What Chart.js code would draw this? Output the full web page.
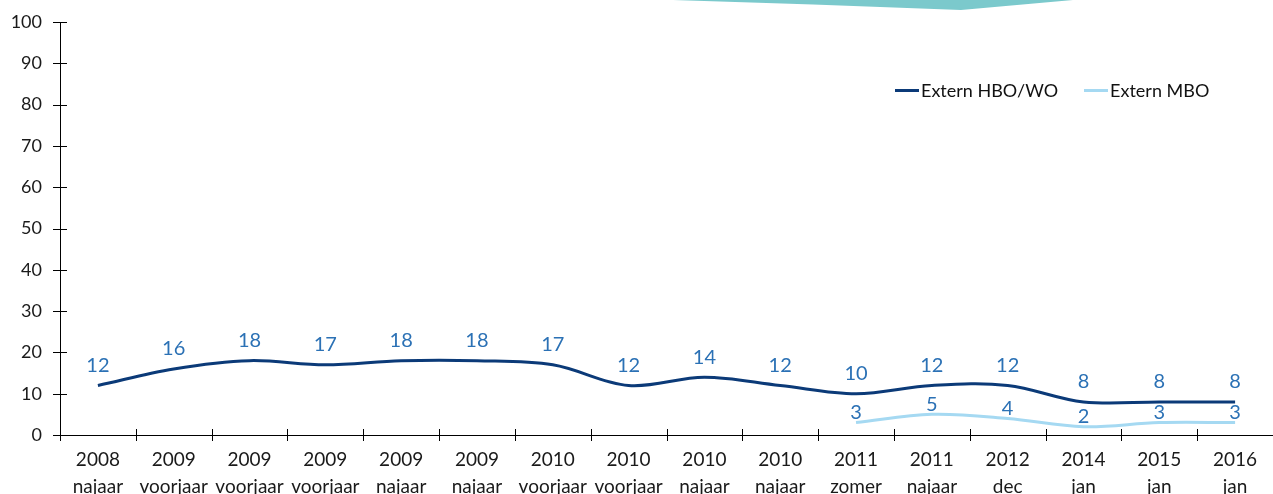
<!DOCTYPE html>
<html lang="nl">

<head>
    <meta charset="UTF-8">
    <meta name="viewport" content="width=device-width, initial-scale=1.0">
    <title>Extern HBO/WO en MBO</title>
    <style>
        body {
            margin: 0;
            background: #fff;
            overflow: hidden;
            font-family: Lato, "Open Sans", sans-serif;
        }

        .box {
            position: relative;
            width: 1273px;
            height: 510px;
        }

        .kop {
            position: absolute;
            left: 673px;
            top: 0;
            width: 400px;
            height: 10px;
            background: #7bc9cc;
            clip-path: polygon(0 0, 35% 45%, 72% 100%, 100% 0);
        }

        .legenda {
            position: absolute;
            top: 79px;
            left: 895px;
            display: flex;
            font-size: 18px;
            color: #111;
        }

        .legenda span {
            display: flex;
            align-items: center;
            margin-right: 26px;
        }

        .legenda i {
            display: inline-block;
            width: 24px;
            height: 3px;
            margin-right: 2px;
        }
    </style>
</head>

<body>
    <div class="box">
        <canvas id="grafiek"></canvas>
        <div class="kop"></div>
        <div class="legenda">
            <span><i style="background:#0b3a78"></i>Extern HBO/WO</span>
            <span><i style="background:#a5d9f2"></i>Extern MBO</span>
        </div>
    </div>

    <script src="https://cdn.jsdelivr.net/npm/chart.js@4.4.1/dist/chart.umd.min.js"></script>

    <script>
        // data
        var jaren = ['2008', '2009', '2009', '2009', '2009', '2009', '2010', '2010', '2010', '2010', '2011', '2011', '2012', '2014', '2015', '2016'];
        var periodes = ['najaar', 'voorjaar', 'voorjaar', 'voorjaar', 'najaar', 'najaar', 'voorjaar', 'voorjaar', 'najaar', 'najaar', 'zomer', 'najaar', 'dec', 'jan', 'jan', 'jan'];
        var externHboWo = [12, 16, 18, 17, 18, 18, 17, 12, 14, 12, 10, 12, 12, 8, 8, 8];
        var externMbo = [null, null, null, null, null, null, null, null, null, null, 3, 5, 4, 2, 3, 3];
        var yTicks = [0, 10, 20, 30, 40, 50, 60, 70, 80, 90, 100];

        var labels = [];
        for (let i = 0; i < jaren.length; i++) {
            labels.push([jaren[i], periodes[i]]);
        }

        // getallen boven de punten
        var waardeLabels = {
            id: 'waardeLabels',
            afterDatasetsDraw(chart) {
                var ctx = chart.ctx;
                ctx.save();
                ctx.font = '20px Lato, sans-serif';
                ctx.fillStyle = '#2b71b5';
                ctx.textAlign = 'center';
                ctx.textBaseline = 'middle';
                chart.data.datasets.forEach(function (ds, d) {
                    var meta = chart.getDatasetMeta(d);
                    var afstand = d == 0 ? 20 : 10;
                    meta.data.forEach(function (punt, i) {
                        if (ds.data[i] == null) return;
                        ctx.fillText(ds.data[i], punt.x, punt.y - afstand);
                    });
                });
                ctx.restore();
            }
        };

        // streepjes die over de as heen vallen
        var asStreepjes = {
            id: 'asStreepjes',
            afterDraw(chart) {
                var ctx = chart.ctx;
                var area = chart.chartArea;
                var x = chart.scales.x;
                var y = chart.scales.y;
                ctx.save();
                ctx.strokeStyle = '#000';
                ctx.lineWidth = 1;
                ctx.beginPath();
                yTicks.forEach(function (v) {
                    var py = Math.round(y.getPixelForValue(v)) + 0.5;
                    ctx.moveTo(area.left - 7, py);
                    ctx.lineTo(area.left + 7, py);
                });
                var half = (x.getPixelForValue(1) - x.getPixelForValue(0)) / 2;
                for (let i = 0; i < labels.length; i++) {
                    var px = Math.round(x.getPixelForValue(i) - half) + 0.5;
                    ctx.moveTo(px, area.bottom - 6);
                    ctx.lineTo(px, area.bottom + 6);
                }
                ctx.stroke();
                ctx.restore();
            }
        };

        var grafiek = document.getElementById('grafiek').getContext('2d');

        var myChart = new Chart(grafiek, {
            type: 'line',
            data: {
                labels: labels,
                datasets: [{
                    label: 'Extern HBO/WO',
                    data: externHboWo,
                    borderColor: '#0b3a78',
                    borderWidth: 3,
                    pointRadius: 0,
                    tension: 0.35
                }, {
                    label: 'Extern MBO',
                    data: externMbo,
                    borderColor: '#a5d9f2',
                    borderWidth: 3,
                    pointRadius: 0,
                    tension: 0.35
                }]
            },
            options: {
                responsive: true,
                maintainAspectRatio: false,
                animation: false,
                layout: {
                    padding: { top: 22, right: 0, left: 0, bottom: 0 }
                },
                plugins: {
                    legend: { display: false },
                    tooltip: { enabled: false }
                },
                scales: {
                    x: {
                        offset: true,
                        grid: { drawOnChartArea: false, drawTicks: false },
                        border: { color: '#000', width: 1 },
                        ticks: {
                            color: '#1a1a1a',
                            padding: 11,
                            maxRotation: 0,
                            autoSkip: false,
                            font: { family: 'Lato, sans-serif', size: 19, lineHeight: '27px' }
                        },
                        afterFit: function (scale) {
                            scale.height = 75;
                        }
                    },
                    y: {
                        min: 0,
                        max: 100,
                        grid: { drawOnChartArea: false, drawTicks: false },
                        border: { color: '#000', width: 1 },
                        ticks: {
                            stepSize: 10,
                            color: '#1a1a1a',
                            padding: 18,
                            font: { family: 'Lato, sans-serif', size: 18 }
                        },
                        afterFit: function (scale) {
                            scale.width = 60;
                            scale.paddingTop = 0;
                            scale.paddingBottom = 0;
                        }
                    }
                }
            },
            plugins: [waardeLabels, asStreepjes]
        });
    </script>
</body>

</html>
